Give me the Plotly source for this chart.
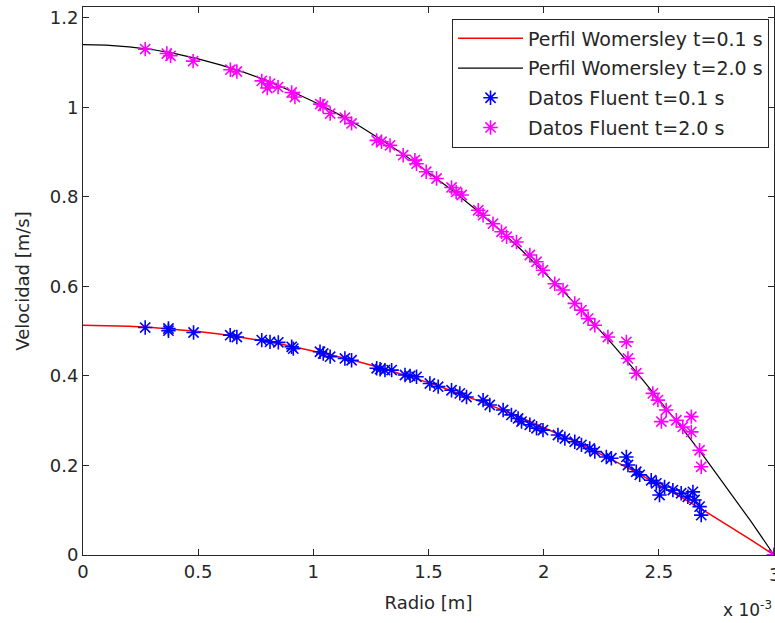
import plotly.graph_objects as go

# Radial positions in units of 1e-3 m
radio_curva = [0.0, 0.1, 0.2, 0.3, 0.4, 0.5, 0.6, 0.7, 0.8, 0.9, 1.0,
               1.1, 1.2, 1.3, 1.4, 1.5, 1.6, 1.7, 1.8, 1.9, 2.0,
               2.1, 2.2, 2.3, 2.4, 2.5, 2.6, 2.7, 2.8, 2.9, 3.0]
wom_t01 = [0.513, 0.512, 0.511, 0.508, 0.504, 0.499, 0.493, 0.485, 0.477, 0.467, 0.456,
           0.444, 0.431, 0.417, 0.401, 0.385, 0.367, 0.348, 0.328, 0.307, 0.285,
           0.262, 0.237, 0.212, 0.185, 0.157, 0.128, 0.098, 0.066, 0.034, 0.0]
wom_t20 = [1.140, 1.139, 1.135, 1.129, 1.120, 1.108, 1.094, 1.078, 1.059, 1.037, 1.013,
           0.987, 0.958, 0.926, 0.892, 0.855, 0.816, 0.774, 0.730, 0.683, 0.633,
           0.581, 0.527, 0.470, 0.410, 0.348, 0.284, 0.217, 0.147, 0.075, 0.0]

fl01_r = [0.27, 0.371, 0.371, 0.48, 0.639, 0.668, 0.776, 0.812, 0.848, 0.906, 0.913,
          1.029, 1.043, 1.073, 1.137, 1.166, 1.275, 1.29, 1.311, 1.34, 1.398, 1.42, 1.448,
          1.506, 1.542, 1.6, 1.636, 1.665, 1.737, 1.766, 1.824, 1.86, 1.889,
          1.904, 1.94, 1.969, 1.997, 2.062, 2.092, 2.135, 2.164, 2.2, 2.222, 2.272, 2.294,
          2.359, 2.366, 2.402, 2.417, 2.467, 2.489, 2.503, 2.525, 2.561, 2.597, 2.626,
          2.648, 2.655, 2.677, 2.684, 3.0]
fl01_v = [0.508, 0.506, 0.501, 0.497, 0.491, 0.487, 0.480, 0.476, 0.475, 0.465, 0.461,
          0.454, 0.450, 0.443, 0.439, 0.435, 0.417, 0.415, 0.413, 0.413, 0.402, 0.400, 0.398,
          0.383, 0.376, 0.368, 0.361, 0.353, 0.346, 0.335, 0.324, 0.313, 0.305,
          0.298, 0.291, 0.283, 0.279, 0.268, 0.260, 0.253, 0.246, 0.238, 0.231, 0.219, 0.216,
          0.219, 0.201, 0.186, 0.179, 0.167, 0.160, 0.134, 0.152, 0.145, 0.138, 0.130,
          0.141, 0.123, 0.108, 0.089, 0.0]

fl20_r = [0.27, 0.364, 0.38, 0.478, 0.64, 0.668, 0.776, 0.80, 0.812, 0.847, 0.906, 0.92,
          1.03, 1.042, 1.073, 1.137, 1.166, 1.275, 1.296, 1.333, 1.39, 1.441, 1.448,
          1.49, 1.535, 1.6, 1.62, 1.644, 1.716, 1.737, 1.78, 1.817, 1.839,
          1.882, 1.94, 1.969, 1.997, 2.048, 2.084, 2.135, 2.164, 2.193, 2.222, 2.279,
          2.359, 2.366, 2.402, 2.474, 2.496, 2.511, 2.532, 2.576, 2.604, 2.641, 2.641,
          2.677, 2.684, 3.0]
fl20_v = [1.130, 1.120, 1.115, 1.103, 1.084, 1.080, 1.059, 1.043, 1.053, 1.045, 1.033, 1.023,
          1.007, 1.003, 0.986, 0.977, 0.964, 0.926, 0.923, 0.915, 0.893, 0.882, 0.874,
          0.856, 0.841, 0.821, 0.811, 0.804, 0.770, 0.759, 0.740, 0.722, 0.711,
          0.699, 0.670, 0.655, 0.636, 0.606, 0.592, 0.562, 0.547, 0.528, 0.513, 0.487,
          0.476, 0.439, 0.406, 0.361, 0.346, 0.298, 0.324, 0.301, 0.286, 0.309, 0.275,
          0.234, 0.197, 0.0]

FONT = "DejaVu Sans"
INK = "#262626"
fig = go.Figure()
fig.add_trace(go.Scatter(x=radio_curva, y=wom_t01, mode="lines", name="Perfil Womersley t=0.1 s",
                         line=dict(color="#ff0000", width=1.5), legendgroup="a"))
fig.add_trace(go.Scatter(x=radio_curva, y=wom_t20, mode="lines", name="Perfil Womersley t=2.0 s",
                         line=dict(color="#000000", width=1.2), legendgroup="b"))
fig.add_trace(go.Scatter(x=fl01_r, y=fl01_v, mode="markers", name="Datos Fluent t=0.1 s",
                         marker=dict(symbol="asterisk-open", size=12, color="#0000ff",
                                     line=dict(color="#0000ff", width=1.6)), legendgroup="c"))
fig.add_trace(go.Scatter(x=fl20_r, y=fl20_v, mode="markers", name="Datos Fluent t=2.0 s",
                         marker=dict(symbol="asterisk-open", size=12, color="#ff00ff",
                                     line=dict(color="#ff00ff", width=1.6)), legendgroup="d"))

axis_common = dict(showline=True, linecolor=INK, linewidth=1, mirror="allticks",
                   ticks="inside", ticklen=6, tickcolor=INK, showgrid=False,
                   zeroline=False, tickfont=dict(family=FONT, size=18, color=INK))
fig.update_layout(
    width=775, height=623,
    margin=dict(l=83, r=1, t=7, b=68),
    paper_bgcolor="white", plot_bgcolor="white",
    font=dict(family=FONT, size=18, color=INK),
    xaxis=dict(range=[0, 3], tick0=0, dtick=0.5, tickvals=[0, 0.5, 1, 1.5, 2, 2.5],
               ticktext=["0", "0.5", "1", "1.5", "2", "2.5"],
               title=dict(text="Radio [m]", font=dict(family=FONT, size=18), standoff=15),
               **axis_common),
    yaxis=dict(range=[0, 1.224], tick0=0, dtick=0.2,
               title=dict(text="Velocidad [m/s]", font=dict(family=FONT, size=18), standoff=15),
               **axis_common),
    legend=dict(x=0.9928, y=0.979, xanchor="right", yanchor="top",
                bgcolor="white", bordercolor=INK, borderwidth=1,
                font=dict(family=FONT, size=19, color=INK),
                itemwidth=65, tracegroupgap=2, traceorder="grouped"),
    showlegend=True,
    annotations=[
        dict(text="x 10<sup>-3</sup>", xref="paper", yref="paper",
             x=1.0, y=-0.075, xanchor="right", yanchor="top", showarrow=False,
             font=dict(family=FONT, size=17, color=INK)),
        dict(text="3", xref="x", yref="paper", x=3, y=-0.012,
             xanchor="center", yanchor="top", showarrow=False,
             font=dict(family=FONT, size=18, color=INK)),
    ],
    shapes=[dict(type="line", xref="x", yref="paper", x0=3, x1=3, y0=0, y1=0.011,
                 line=dict(color=INK, width=1))],
)
fig.write_html("out.html")
